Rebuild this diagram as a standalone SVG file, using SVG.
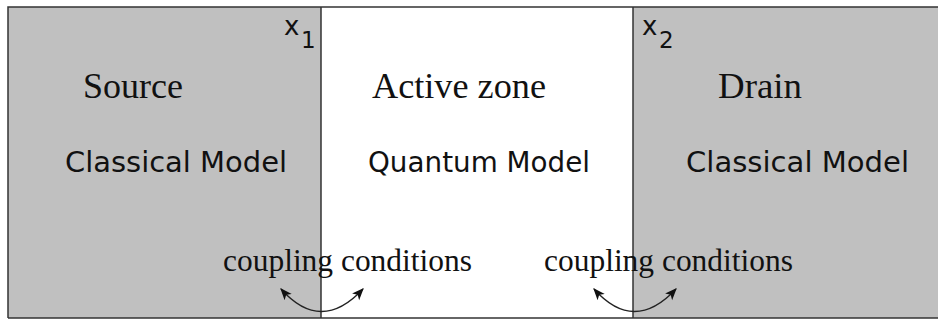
<svg xmlns="http://www.w3.org/2000/svg" width="938" height="321" viewBox="0 0 938 321">
<style>
.serif{font-family:"Liberation Serif","Times New Roman",serif;fill:#111}
.sans{font-family:"DejaVu Sans","Verdana",sans-serif;fill:#111}
.zone{stroke:none}
.edge{stroke:#333;stroke-width:1.5;fill:none}
.arc{stroke:#222;stroke-width:1.3;fill:none;marker-start:url(#ah);marker-end:url(#ah)}
</style>
<defs>
<marker id="ah" viewBox="0 0 10 10" refX="9" refY="5" markerWidth="12" markerHeight="12" markerUnits="userSpaceOnUse" orient="auto-start-reverse">
<path d="M0,1 L10,5 L0,9 L2.5,5 Z" fill="#111"/>
</marker>
</defs>
<rect width="938" height="321" fill="#ffffff"/>
<g id="source">
<rect class="zone" x="8" y="7" width="313" height="311" fill="#c0c0c0"/>
<text class="serif" x="83" y="98" font-size="36" textLength="100" lengthAdjust="spacingAndGlyphs">Source</text>
<text class="sans" x="65" y="172" font-size="28" textLength="222" lengthAdjust="spacingAndGlyphs">Classical Model</text>
</g>
<g id="active">
<text class="serif" x="372" y="98" font-size="36" textLength="174" lengthAdjust="spacingAndGlyphs">Active zone</text>
<text class="sans" x="368" y="172" font-size="28" textLength="222" lengthAdjust="spacingAndGlyphs">Quantum Model</text>
</g>
<g id="drain">
<rect class="zone" x="633" y="7" width="305" height="311" fill="#c0c0c0"/>
<text class="serif" x="718" y="98" font-size="36" textLength="84" lengthAdjust="spacingAndGlyphs">Drain</text>
<text class="sans" x="686" y="172" font-size="28" textLength="223" lengthAdjust="spacingAndGlyphs">Classical Model</text>
</g>
<g id="frame">
<path class="edge" d="M8,318 V7 H938"/>
<path class="edge" d="M8,318 H938"/>
<path class="edge" d="M321,7 V318"/>
<path class="edge" d="M633,7 V318"/>
</g>
<g id="x1">
<text class="sans" x="284" y="35" font-size="26">x</text>
<text class="sans" x="301" y="48" font-size="23">1</text>
</g>
<g id="x2">
<text class="sans" x="642" y="35" font-size="26">x</text>
<text class="sans" x="659" y="48" font-size="23">2</text>
</g>
<g id="coupling-left">
<text class="serif" x="223" y="271" font-size="31" textLength="249" lengthAdjust="spacingAndGlyphs">coupling conditions</text>
</g>
<g id="coupling-right">
<text class="serif" x="544" y="271" font-size="31" textLength="249" lengthAdjust="spacingAndGlyphs">coupling conditions</text>
</g>
<g id="connectors">
<path class="arc" d="M281,289 Q321,334 363,289"/>
<path class="arc" d="M594,289 Q634,334 676,289"/>
</g>
</svg>
